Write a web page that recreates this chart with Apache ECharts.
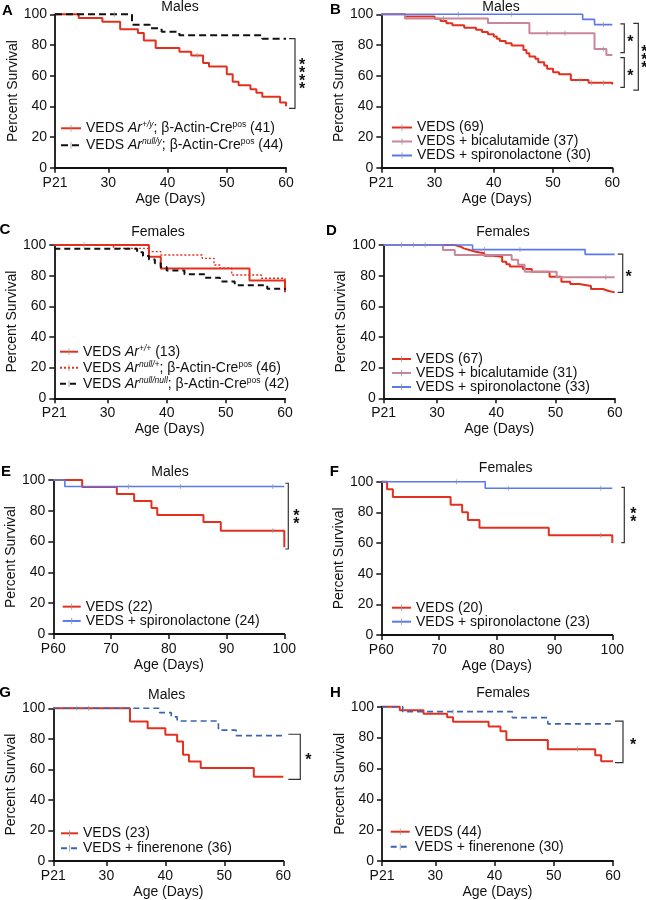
<!DOCTYPE html>
<html>
<head>
<meta charset="utf-8">
<script src="https://cdn.jsdelivr.net/npm/echarts@6.0.0/dist/echarts.min.js"></script>
<style>
  html, body { margin: 0; padding: 0; background: #fff; }
  #chart { width: 646px; height: 900px; }
</style>
</head>
<body>
<div id="chart"></div>
<script>
const FONT = '"Liberation Sans", Arial, sans-serif';
const RED = '#e3301e';
const PINK = '#c9869a';
const BLUE = '#5b79ee';
const NAVY = '#3a64ad';
const BLACK = '#111111';
// thin vertical censor tick, kept square by two tiny corner dots
const TICK = 'path://M0,0L0.01,0L0,0.01Z M10,10L9.99,10L10,9.99Z M4.5,1L5.5,1L5.5,9L4.5,9Z';

const ticksP21 = [21, 30, 40, 50, 60];
const ticksP60 = [60, 70, 80, 90, 100];

// A - males, Ar
const aRed = [[21,100],[25,97.6],[29,95.1],[32,90.2],[35,87.8],[36,82.9],[38,78],[42,75.6],[44,73.2],[46,68.3],[47,65.9],[50,61],[51,56.1],[52,53.7],[54,51.2],[55,48.8],[56,46.3],[59,42.5],[60,40]];
const aBlack = [[21,100],[34,93.2],[37,90.9],[39,88.6],[42,86.4],[56,84.1],[60,84.1]];
// B - males, drugs
const bRed = [[21,100],[25,98.6],[30,97.1],[31,95.7],[32,94.2],[33,92.8],[35,91.3],[37,89.9],[38,88.4],[39,87],[40,85.5],[40.5,84.1],[41,82.6],[42,81.2],[43,79.7],[45,76.8],[45.5,74.6],[46,72.5],[47,71],[47.5,68.8],[48.5,66.7],[49,64.5],[50,62.3],[51,60.9],[53,57.2],[56,55.4],[60,54.3]];
const bPink = [[21,100],[25,97.3],[39,94.4],[46,87.6],[57,77.4],[59,73.5],[60,73.5]];
const bBlue = [[21,100],[55,96.7],[57,93.3],[60,93.3]];
// C - females, Ar
const cRed = [[21,100],[37,92.3],[39,84.6],[54,76.9],[60,69.2]];
const cDot = [[21,100],[31,97.8],[37,95.7],[39,93.5],[46,91.3],[48,87],[49,84.8],[51,80.4],[56,78.3],[60,76.5]];
const cBlack = [[21,97.6],[35,95.2],[36,92.9],[37,90.5],[38,88.1],[39,85.7],[40,83.3],[43,81],[46.5,78.6],[49,76.2],[51.5,73.8],[57,71.4],[60,70.8]];
// D - females, drugs
const dRed = [[21,100],[33,98.9],[34,97.8],[34.5,96.7],[35.5,95.6],[36.5,94.6],[38,93],[39.5,92.4],[41,89.1],[41.7,87.4],[42.3,85.9],[44.5,84.3],[46,82.6],[49,79.3],[51,76],[52.5,74.6],[54,73.3],[56,71.3],[58,70],[59,69.1],[60,69.1]];
const dPink = [[21,100],[31,96.8],[33,93.5],[42.6,90.3],[43.7,87.1],[44.8,82.6],[50.2,79],[60,79]];
const dBlue = [[21,100],[36,97],[55,93.9],[60,93.9]];
// E - males P60-100
const eRed = [[60,100],[65,95.5],[71,90.9],[74,86.4],[77,81.8],[78,77.3],[86,72.7],[89,67],[100,56.3]];
const eBlue = [[60,100],[62,95.8],[100,95.8]];
// F - females P60-100
const fRed = [[60,100],[61,95],[62,90],[72,85],[74,80],[75,75],[77,70],[89,65],[100,60]];
const fBlue = [[60,100],[78,95.7],[100,95.7]];
// G - males finerenone
const gRed = [[21,100],[34,91.3],[37,87],[40,82.6],[42,78.3],[43,69.6],[44,65.2],[46,60.9],[55,55.2],[60,55.2]];
const gBlue = [[21,100],[39,97.2],[41,94.4],[42,91.7],[49,85.7],[52,82.1],[60,82.1]];
// H - females finerenone
const hRed = [[21,100],[24,97.7],[28,95.5],[32,93.2],[33,90.3],[39,87.2],[41,84.1],[42,78.4],[49,72.4],[57,68.6],[58,64.6],[60,64.6]];
const hBlue = [[21,100],[24.5,96.8],[43,92.9],[49,88.9],[60,88.9]];

// censored days (small ticks on the curves), per line
const aCens = [[45], [31]];
const bCens = [[54.5, 56.5, 58.5], [31.5, 49, 52, 58.5], [34, 43, 58.5]];
const cCens = [[26], [], []];
const dCens = [[24, 26, 28], [58.5], [38, 44]];
const eCens = [[98], [73, 82, 98]];
const fCens = [[98], [73, 82, 98]];
const gCens = [[25, 27], []];
const hCens = [[54], [33]];

const legendA = ['VEDS Ar+/y; β-Actin-Crepos (41)', 'VEDS Arnull/y; β-Actin-Crepos (44)'];
const legendB = ['VEDS (69)', 'VEDS + bicalutamide (37)', 'VEDS + spironolactone (30)'];
const legendC = ['VEDS Ar+/+ (13)', 'VEDS Arnull/+; β-Actin-Crepos (46)', 'VEDS Arnull/null; β-Actin-Crepos (42)'];
const legendD = ['VEDS (67)', 'VEDS + bicalutamide (31)', 'VEDS + spironolactone (33)'];
const legendE = ['VEDS (22)', 'VEDS + spironolactone (24)'];
const legendF = ['VEDS (20)', 'VEDS + spironolactone (23)'];
const legendG = ['VEDS (23)', 'VEDS + finerenone (36)'];
const legendH = ['VEDS (44)', 'VEDS + finerenone (30)'];

// significance brackets: panel, top value, bottom value, stars
const brackets = [
  {panel: 0, top: 84.1, bottom: 38.7, stars: '****', dx: [3, 9, 16]},
  {panel: 1, top: 93.7, bottom: 75, stars: '*', dx: [8, 12, 18]},
  {panel: 1, top: 71.7, bottom: 52.4, stars: '*', dx: [8, 12, 18]},
  {panel: 1, top: 94.1, bottom: 50.6, stars: '***', dx: [21, 26, 32]},
  {panel: 3, top: 94.1, bottom: 69.1, stars: '*', dx: [3, 8, 14]},
  {panel: 4, top: 97.9, bottom: 55.2, stars: '**', dx: [1, 4, 12]},
  {panel: 5, top: 96.3, bottom: 60.2, stars: '**', dx: [9, 12, 21]},
  {panel: 6, top: 83, bottom: 53.5, stars: '*', dx: [5, 17, 25]},
  {panel: 7, top: 90.7, bottom: 63.7, stars: '*', dx: [2, 10, 20]}
];

const richNames = {
  'VEDS Ar+/y; β-Actin-Crepos (41)': '{n|VEDS }{i|Ar}{si|+/y}{n|; β-Actin-Cre}{s|pos}{n| (41)}',
  'VEDS Arnull/y; β-Actin-Crepos (44)': '{n|VEDS }{i|Ar}{si|null/y}{n|; β-Actin-Cre}{s|pos}{n| (44)}',
  'VEDS Ar+/+ (13)': '{n|VEDS }{i|Ar}{si|+/+}{n| (13)}',
  'VEDS Arnull/+; β-Actin-Crepos (46)': '{n|VEDS }{i|Ar}{si|null/+}{n|; β-Actin-Cre}{s|pos}{n| (46)}',
  'VEDS Arnull/null; β-Actin-Crepos (42)': '{n|VEDS }{i|Ar}{si|null/null}{n|; β-Actin-Cre}{s|pos}{n| (42)}'
};

const panels = [
  {letter: 'A', title: 'Males', grid: [55, 14.3, 231, 153.4], xTicks: ticksP21,
   titlePos: [180, 7], letterPos: [7.5, 10.5], cens: aCens,
   legend: {names: legendA, left: 60, top: 119.8, lh: 17, w: 20},
   lines: [{data: aRed, color: RED}, {data: aBlack, color: BLACK, dash: [7, 4]}]},
  {letter: 'B', title: 'Males', grid: [381.3, 14.3, 231, 153.4], xTicks: ticksP21,
   titlePos: [501, 7], letterPos: [335.5, 10], cens: bCens,
   legend: {names: legendB, left: 391, top: 120.5, lh: 12.5, w: 20},
   lines: [{data: bRed, color: RED}, {data: bPink, color: PINK}, {data: bBlue, color: BLUE, width: 1.6}]},
  {letter: 'C', title: 'Females', grid: [54.3, 245, 230.7, 153.3], xTicks: ticksP21,
   titlePos: [158, 232], letterPos: [5, 230], cens: cCens,
   legend: {names: legendC, left: 59, top: 343.7, lh: 16, w: 18},
   lines: [{data: cRed, color: RED}, {data: cDot, color: RED, dash: [2, 2], width: 1.4}, {data: cBlack, color: BLACK, dash: [6, 4]}]},
  {letter: 'D', title: 'Females', grid: [383.7, 245, 231, 153.3], xTicks: ticksP21,
   titlePos: [503, 232], letterPos: [331.3, 231], cens: dCens,
   legend: {names: legendD, left: 391, top: 352, lh: 12.5, w: 19},
   lines: [{data: dRed, color: RED}, {data: dPink, color: PINK}, {data: dBlue, color: BLUE, width: 1.6}]},
  {letter: 'E', title: 'Males', grid: [53.3, 480, 231, 154], xTicks: ticksP60,
   titlePos: [170, 471.7], letterPos: [6, 471.7], cens: eCens,
   legend: {names: legendE, left: 61.7, top: 599.5, lh: 14.3, w: 18},
   lines: [{data: eRed, color: RED}, {data: eBlue, color: BLUE, width: 1.6}]},
  {letter: 'F', title: 'Females', grid: [381.3, 481.7, 231, 153.3], xTicks: ticksP60,
   titlePos: [505.7, 468.3], letterPos: [334.3, 471.7], cens: fCens,
   legend: {names: legendF, left: 391, top: 600.7, lh: 14, w: 19},
   lines: [{data: fRed, color: RED}, {data: fBlue, color: BLUE, width: 1.6}]},
  {letter: 'G', title: 'Males', grid: [53.3, 708.3, 230, 152.7], xTicks: ticksP21,
   titlePos: [166.7, 695], letterPos: [5, 693], cens: gCens,
   legend: {names: legendG, left: 60, top: 825.8, lh: 15, w: 17},
   lines: [{data: gRed, color: RED}, {data: gBlue, color: NAVY, dash: [6, 4], width: 1.6}]},
  {letter: 'H', title: 'Females', grid: [382, 706.7, 231, 154.3], xTicks: ticksP21,
   titlePos: [503, 692.7], letterPos: [335.5, 693], cens: hCens,
   legend: {names: legendH, left: 389.7, top: 824.2, lh: 15, w: 19},
   lines: [{data: hRed, color: RED}, {data: hBlue, color: NAVY, dash: [6, 4], width: 1.6}]}
];

// survival value of a step curve at a given day
function valueAt(curve, day) {
  let v = curve[0][1];
  for (let j = 0; j < curve.length; j++) {
    if (curve[j][0] <= day) v = curve[j][1];
  }
  return v;
}

const axisText = {fontFamily: FONT, fontSize: 14, color: '#111'};

let grids = [], xAxes = [], yAxes = [], series = [], legends = [], texts = [];

panels.forEach((p, i) => {
  grids.push({left: p.grid[0], top: p.grid[1], width: p.grid[2], height: p.grid[3], outerBoundsMode: 'none'});

  let ticks = p.xTicks;
  xAxes.push({
    gridIndex: i, type: 'value', min: ticks[0], max: ticks[ticks.length - 1],
    name: 'Age (Days)', nameLocation: 'middle', nameGap: 24, nameTextStyle: axisText,
    axisLine: {onZero: false, lineStyle: {color: '#111', width: 1.8}},
    axisTick: {customValues: ticks, length: 5, lineStyle: {color: '#111', width: 1.5}},
    axisLabel: Object.assign({customValues: ticks, margin: 8,
      formatter: (v) => v === ticks[0] ? 'P' + v : String(v)}, axisText),
    splitLine: {show: false}
  });
  yAxes.push({
    gridIndex: i, type: 'value', min: 0, max: 100, interval: 20,
    name: 'Percent Survival', nameLocation: 'middle', nameGap: 32, nameTextStyle: axisText,
    axisLine: {show: true, onZero: false, lineStyle: {color: '#111', width: 1.8}},
    axisTick: {show: true, length: 5, lineStyle: {color: '#111', width: 1.5}},
    axisLabel: Object.assign({margin: 8}, axisText),
    splitLine: {show: false}
  });

  let marks = [];
  p.lines.forEach((l, k) => {
    series.push({
      type: 'line', name: p.legend.names[k], xAxisIndex: i, yAxisIndex: i,
      data: l.data, step: 'end', showSymbol: false, symbol: TICK, symbolSize: 6,
      lineStyle: {color: l.color, width: l.width || 2, type: l.dash || 'solid'},
      itemStyle: {color: l.color},
      silent: true, clip: false, z: 3 + k
    });
    p.cens[k].forEach((d) => marks.push([d, valueAt(l.data, d)]));
  });
  series.push({
    type: 'scatter', name: 'censored ' + p.letter, xAxisIndex: i, yAxisIndex: i,
    data: marks, symbol: 'rect', symbolSize: [1, 5],
    itemStyle: {color: '#9a9a9a'}, silent: true, z: 10
  });

  let lh = p.legend.lh;
  legends.push({
    data: p.legend.names, orient: 'vertical', left: p.legend.left, top: p.legend.top,
    padding: 0, itemGap: 0, itemWidth: p.legend.w, itemHeight: 10, selectedMode: false,
    itemStyle: {color: '#9a9a9a'},
    formatter: (name) => richNames[name] || name,
    textStyle: {
      fontFamily: FONT, fontSize: 14, color: '#111', lineHeight: lh,
      rich: {
        n: {fontFamily: FONT, fontSize: 14, color: '#111', lineHeight: lh},
        i: {fontFamily: FONT, fontSize: 14, color: '#111', lineHeight: lh, fontStyle: 'italic'},
        si: {fontFamily: FONT, fontSize: 8.5, color: '#111', lineHeight: 9, fontStyle: 'italic', verticalAlign: 'top'},
        s: {fontFamily: FONT, fontSize: 8.5, color: '#111', lineHeight: 9, verticalAlign: 'top'}
      }
    }
  });

  texts.push({
    type: 'text', x: p.titlePos[0], y: p.titlePos[1], silent: true,
    style: {text: p.title, font: '14px ' + FONT, fill: '#111', align: 'center', verticalAlign: 'middle', textAlign: 'center', textVerticalAlign: 'middle'}
  });
  texts.push({
    type: 'text', x: p.letterPos[0], y: p.letterPos[1], silent: true,
    style: {text: p.letter, font: 'bold 15px ' + FONT, fill: '#000', align: 'center', verticalAlign: 'middle', textAlign: 'center', textVerticalAlign: 'middle'}
  });
});

const chart = echarts.init(document.getElementById('chart'));
chart.setOption({
  animation: false,
  backgroundColor: '#fff',
  grid: grids,
  xAxis: xAxes,
  yAxis: yAxes,
  legend: legends,
  series: series
});

// brackets are placed on the chart's own y scale
brackets.forEach((b) => {
  let ticks = panels[b.panel].xTicks;
  let xMax = ticks[ticks.length - 1];
  let pTop = chart.convertToPixel({gridIndex: b.panel}, [xMax, b.top]);
  let pBot = chart.convertToPixel({gridIndex: b.panel}, [xMax, b.bottom]);
  let x0 = pTop[0] + b.dx[0];
  let x1 = pTop[0] + b.dx[1];
  texts.push({
    type: 'polyline', silent: true,
    shape: {points: [[x0, pTop[1]], [x1, pTop[1]], [x1, pBot[1]], [x0, pBot[1]]]},
    style: {stroke: '#333', lineWidth: 1.2, fill: null}
  });
  texts.push({
    type: 'text', x: pTop[0] + b.dx[2], y: (pTop[1] + pBot[1]) / 2 + 4, silent: true,
    style: {text: b.stars.split('').join('\n'), font: 'bold 16px ' + FONT, lineHeight: 8, fill: '#111',
      align: 'center', verticalAlign: 'middle', textAlign: 'center', textVerticalAlign: 'middle'}
  });
});

chart.setOption({graphic: texts});
</script>
</body>
</html>
